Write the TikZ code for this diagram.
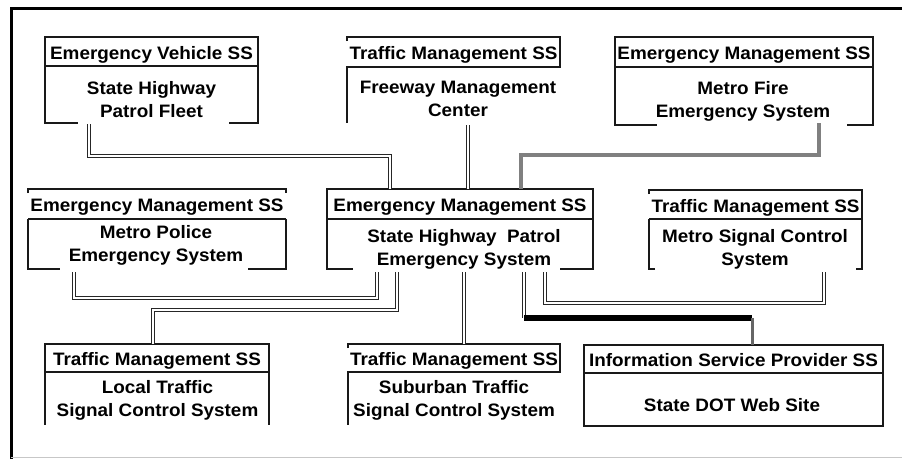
\documentclass[tikz,border=0pt]{standalone}
\usepackage{fontspec}
\setmainfont{Liberation Sans}[FakeStretch=1.05]
\usetikzlibrary{calc}
% centred block of body lines, baseline on the first line
\newcommand{\bodylines}[1]{\begin{tabular}[t]{@{}c@{}}#1\end{tabular}}

\begin{document}
\begin{tikzpicture}[x=1pt, y=-1pt,
  font=\fontsize{18}{23}\selectfont\bfseries,
  edge/.style={line width=1.7pt, draw=black!90, line join=miter},
  hdr/.style={inner sep=0pt, outer sep=0pt, text height=17pt, text depth=2pt},
  area/.style={inner sep=0pt, outer sep=0pt},
  txt/.style={inner sep=0pt, anchor=base},
  link/.style={draw=black!85, double=white, line width=1.6pt, double distance=1.6pt},
  feed/.style={draw=black!50, line width=3.2pt},
  trunk/.style={draw=black, line width=5.5pt},
  webdrop/.style={draw=black!60, line width=3pt}]

\useasboundingbox (0,0) rectangle (902,459);

% page frame
\draw[line width=3pt] (11,459) -- (11,8) -- (902,8);
\draw[black!22, line width=1pt] (11,457.5) -- (902,457.5);

% ---------- subsystem headers and body areas ----------
\node[hdr, minimum width=213pt, minimum height=29pt] (fleetH) at (151.5,51.5) {Emergency Vehicle SS};
\node[area, minimum width=213pt, minimum height=57pt] (fleet) at (151.5,94.5) {};
\node[txt] (fleetT) at (151.5,94) {\bodylines{State Highway\\Patrol Fleet}};

\node[hdr, minimum width=213pt, minimum height=30pt] (fmcH) at (453.5,52) {Traffic Management SS};
\node[area, minimum width=213pt, minimum height=56pt] (fmc) at (453.5,95) {};
\node[txt] (fmcT) at (458,93) {\bodylines{Freeway Management\\Center}};

\node[hdr, minimum width=258pt, minimum height=30pt] (fireH) at (744,52) {Emergency Management SS};
\node[area, minimum width=258pt, minimum height=58pt] (fire) at (744,96) {};
\node[txt] (fireT) at (743,94) {\bodylines{Metro Fire\\Emergency System}};

\node[hdr, minimum width=258pt, minimum height=30pt] (policeH) at (157,204) {Emergency Management SS};
\node[area, minimum width=258pt, minimum height=50pt] (police) at (157,244) {};
\node[txt] (policeT) at (156,238) {\bodylines{Metro Police\\Emergency System}};

\node[hdr, minimum width=266pt, minimum height=30pt] (hwyH) at (460,204) {Emergency Management SS};
\node[area, minimum width=266pt, minimum height=50pt] (hwy) at (460,244) {};
\node[txt] (hwyT) at (464,242) {\bodylines{State Highway\ \ Patrol\\Emergency System}};

\node[hdr, minimum width=213pt, minimum height=29pt] (signalH) at (755.5,204.5) {Traffic Management SS};
\node[area, minimum width=213pt, minimum height=50pt] (signal) at (755.5,244) {};
\node[txt] (signalT) at (755,242) {\bodylines{Metro Signal Control\\System}};

\node[hdr, minimum width=224pt, minimum height=28pt] (localH) at (157,358) {Traffic Management SS};
\node[area, minimum width=224pt, minimum height=53pt] (local) at (157,398.5) {};
\node[txt] (localT) at (157.5,393) {\bodylines{Local Traffic\\Signal Control System}};

\node[hdr, minimum width=212pt, minimum height=28pt] (suburbH) at (454,358) {Traffic Management SS};
\node[area, minimum width=212pt, minimum height=53pt] (suburb) at (454,398.5) {};
\node[txt] (suburbT) at (454,393) {\bodylines{Suburban Traffic\\Signal Control System}};

\node[hdr, minimum width=299pt, minimum height=28pt] (dotH) at (733.5,359) {Information Service Provider SS};
\node[area, minimum width=299pt, minimum height=53pt] (dot) at (733.5,399.5) {};
\node[txt] (dotT) at (732,411) {State DOT Web Site};

% ---------- box outlines ----------
% State Highway Patrol Fleet
\draw[edge] (fleetH.south west) rectangle (fleetH.north east);
\draw[edge] (fleet.north west) -- (fleet.south west) -- ++(33,0);
\draw[edge] (fleet.north east) -- (fleet.south east) -- ++(-29,0);
% Freeway Management Center
\draw[edge] ($(fmcH.north west)+(0,4)$) -- (fmcH.north west) -- (fmcH.north east)
  -- (fmcH.south east) -- (fmcH.south west) -- (fmc.south west);
% Metro Fire Emergency System
\draw[edge] (fireH.south west) rectangle (fireH.north east);
\draw[edge] (fire.north west) -- (fire.south west) -- ++(42,0);
\draw[edge] (fire.north east) -- (fire.south east) -- ++(-26,0);
% Metro Police Emergency System
\draw[edge] ($(policeH.north west)+(0,4)$) -- (policeH.north west) -- (policeH.north east) -- ++(0,4);
\draw[edge] (policeH.south west) -- (policeH.south east);
\draw[edge] (police.north west) -- (police.south west) -- ++(32,0);
\draw[edge] (police.north east) -- (police.south east) -- ++(-38,0);
% State Highway Patrol Emergency System
\draw[edge] (hwyH.south west) rectangle (hwyH.north east);
\draw[edge] (hwy.north west) -- (hwy.south west) -- ++(26,0);
\draw[edge] (hwy.north east) -- (hwy.south east) -- ++(-33,0);
% Metro Signal Control System
\draw[edge] ($(signalH.north west)+(0,4)$) -- (signalH.north west) -- (signalH.north east) -- (signalH.south east);
\draw[edge] (signalH.south west) -- (signalH.south east);
\draw[edge] ($(signal.south west)+(6,0)$) -- (signal.south west) -- (signal.north west);
\draw[edge] ($(signal.south east)+(-6,0)$) -- (signal.south east) -- (signal.north east);
% Local Traffic Signal Control System
\draw[edge] (localH.south west) rectangle (localH.north east);
\draw[edge] (local.north west) -- (local.south west);
\draw[edge] (local.north east) -- (local.south east);
% Suburban Traffic Signal Control System
\draw[edge] ($(suburbH.north west)+(0,4)$) -- (suburbH.north west) -- (suburbH.north east)
  -- (suburbH.south east) -- (suburbH.south west) -- (suburb.south west);
% State DOT Web Site
\draw[edge] (dotH.south west) rectangle (dotH.north east);
\draw[edge] (dot.north west) rectangle (dot.south east);

% ---------- interconnects ----------
\draw[link] ($(fleet.south west)+(44,1)$) -- ++(0,32) -| ($(hwyH.north west)+(63,0)$);
\draw[link] ($(fmc.south west)+(121,2)$) -- ($(hwyH.north west)+(141,0)$);
\draw[feed] ($(fire.south west)+(204,-2)$) -- ++(0,32) -| ($(hwyH.north west)+(194,0)$);
\draw[link] ($(hwy.south west)+(50,3)$) -- ++(0,26) -| ($(police.south west)+(46,3)$);
\draw[link] ($(hwy.south west)+(70,3)$) -- ++(0,38) -| ($(localH.north west)+(108,0)$);
\draw[link] ($(hwy.south west)+(137,3)$) -- ($(suburbH.north west)+(116,0)$);
\draw[link] ($(hwy.south west)+(218,3)$) -- ++(0,31) -| ($(signal.south west)+(175,3)$);
\coordinate (hwydrop) at ($(hwy.south west)+(197,49)$);
\coordinate (webturn) at ($(dotH.north west)+(168,-27)$);
\draw[link] ($(hwy.south west)+(197,3)$) -- (hwydrop);
\draw[trunk] (hwydrop) -- (webturn);
\draw[webdrop] (webturn) -- (dotH.north -| webturn);

\end{tikzpicture}
\end{document}
